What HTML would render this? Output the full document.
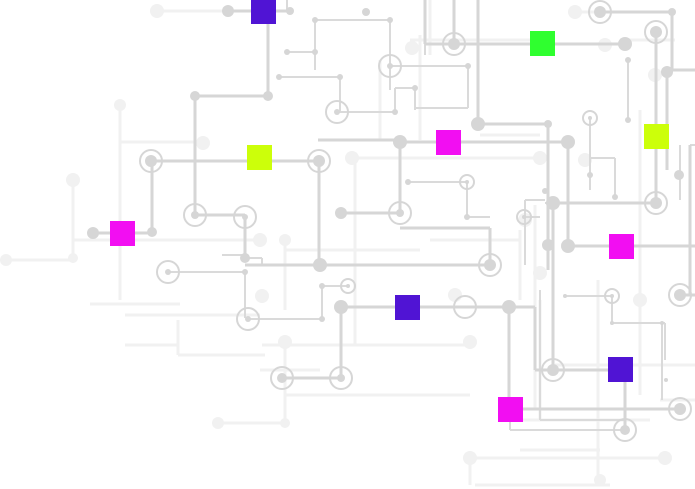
<!DOCTYPE html>
<html><head><meta charset="utf-8"><style>
html,body{margin:0;padding:0;background:#fff;width:695px;height:489px;overflow:hidden}
svg{display:block}
</style></head><body>
<svg width="695" height="489" viewBox="0 0 695 489" xmlns="http://www.w3.org/2000/svg">
<!-- faint background lines -->
<g stroke="#f1f1f1" stroke-width="3" fill="none">
<path d="M157 11H228M73 180V258M6 260H73M73 240H260M120 105V300M120 142H200M285 240V310M125 315H260M90 304H180M178 320V355M178 355H265M285 395H470M262 345H470M285 342V420M218 423H285M355 160V345M352 158H540M535 205V410M470 455V485M470 458H665M475 485H610M515 420H650M540 300V420M598 280V485M555 365H695M520 450H600M430 0V55M410 40H540M575 12H640M620 40H675M640 110V395M660 400H695M380 60V140M480 135H540M520 230V300M260 370H320M125 345H178M420 35V140M285 250H420M430 240H520"/>
</g>
<g fill="#f1f1f1">
<circle cx="157" cy="11" r="7"/><circle cx="73" cy="180" r="7"/><circle cx="6" cy="260" r="6"/><circle cx="73" cy="258" r="5"/>
<circle cx="260" cy="240" r="7"/><circle cx="120" cy="105" r="6"/><circle cx="285" cy="240" r="6"/><circle cx="262" cy="296" r="7"/>
<circle cx="285" cy="342" r="7"/><circle cx="470" cy="342" r="7"/><circle cx="218" cy="423" r="6"/><circle cx="285" cy="423" r="5"/>
<circle cx="352" cy="158" r="7"/><circle cx="540" cy="158" r="7"/><circle cx="470" cy="458" r="7"/><circle cx="665" cy="458" r="7"/>
<circle cx="600" cy="480" r="6"/><circle cx="540" cy="273" r="7"/><circle cx="412" cy="48" r="7"/><circle cx="575" cy="12" r="7"/>
<circle cx="605" cy="45" r="7"/><circle cx="655" cy="75" r="7"/><circle cx="585" cy="160" r="7"/><circle cx="640" cy="300" r="7"/>
<circle cx="525" cy="220" r="7"/><circle cx="455" cy="295" r="7"/><circle cx="203" cy="143" r="7"/>
</g>
<!-- thin mid-gray lines -->
<g stroke="#dadada" stroke-width="2" fill="none">
<path d="M287 0V11M315 20H390M315 20V70M287 52H315M390 20V90M279 77H340M340 77V112M337 112H395M395 112V88M395 88H415M415 88V110M390 66H468M468 66V108M468 108H415M425 0V55M342 213H400M408 182H467M467 182V217M467 217H490M525 200V265M525 217H540M525 200H545M590 118V190M590 158H615M615 158V197M628 60V120M545 203H655M565 296H612M612 296V323M612 323H665M662 323V400M665 323V360M222 255H245M245 272V318M248 319H322M322 319V286M322 286H348M170 272H245M262 258V265M245 258H262M690 145H695M680 145V200M540 290V420M540 420H625M622 430H510M510 430V409"/>
</g>
<!-- main lines -->
<g stroke="#d6d6d6" stroke-width="3" fill="none">
<path d="M228 11H290M268 11V96M195 96H268M195 96V215M151 161H320M152 161V233M93 233H152M195 215H245M245 217V258M245 265H490M319 161V265M318 140H400M400 142H568M400 142V213M341 213H400M400 228H490M490 228V265M478 124H548M548 124V270M478 0V124M568 142V246M568 246H695M553 203H656M656 30V203M553 203V370M425 0V44M454 0V44M425 44H625M341 307H509M341 307V378M282 378H341M509 307V409M509 409H680M509 307H535M535 307V370M535 370H620M625 370V430M690 145V295M680 295H695M600 12H672M672 12V70M672 70H695M667 72V170"/>
</g>
<!-- dots -->
<g fill="#d6d6d6">
<circle cx="228" cy="11" r="6"/><circle cx="290" cy="11" r="4"/><circle cx="268" cy="96" r="5"/><circle cx="195" cy="96" r="5"/>
<circle cx="366" cy="12" r="4"/><circle cx="315" cy="20" r="3"/><circle cx="390" cy="20" r="3"/><circle cx="287" cy="52" r="3"/><circle cx="315" cy="52" r="3"/>
<circle cx="279" cy="77" r="3"/><circle cx="340" cy="77" r="3"/><circle cx="395" cy="112" r="3"/><circle cx="415" cy="88" r="3"/><circle cx="468" cy="66" r="3"/>
<circle cx="93" cy="233" r="6"/><circle cx="152" cy="232" r="5"/><circle cx="245" cy="258" r="5"/><circle cx="320" cy="265" r="7"/>
<circle cx="400" cy="142" r="7"/><circle cx="568" cy="142" r="7"/><circle cx="341" cy="213" r="6"/><circle cx="478" cy="124" r="7"/><circle cx="548" cy="124" r="4"/>
<circle cx="548" cy="245" r="6"/><circle cx="568" cy="246" r="7"/><circle cx="553" cy="203" r="7"/><circle cx="625" cy="44" r="7"/><circle cx="672" cy="12" r="4"/>
<circle cx="667" cy="72" r="6"/><circle cx="679" cy="175" r="5"/><circle cx="341" cy="307" r="7"/><circle cx="509" cy="307" r="7"/><circle cx="408" cy="182" r="3"/>
<circle cx="467" cy="217" r="3"/><circle cx="245" cy="272" r="3"/><circle cx="322" cy="319" r="3"/><circle cx="322" cy="286" r="3"/>
<circle cx="565" cy="296" r="2"/><circle cx="612" cy="323" r="2"/><circle cx="662" cy="323" r="2"/><circle cx="666" cy="380" r="2"/><circle cx="628" cy="60" r="3"/><circle cx="628" cy="120" r="3"/>
<circle cx="590" cy="175" r="3"/><circle cx="615" cy="197" r="3"/><circle cx="545" cy="191" r="3"/>
</g>
<!-- rings -->
<g fill="none" stroke="#d6d6d6" stroke-width="2">
<circle cx="151" cy="161" r="11"/><circle cx="319" cy="161" r="11"/><circle cx="195" cy="215" r="11"/><circle cx="245" cy="217" r="11"/>
<circle cx="400" cy="213" r="11"/><circle cx="490" cy="265" r="11"/><circle cx="454" cy="44" r="11"/><circle cx="390" cy="66" r="11"/>
<circle cx="337" cy="112" r="11"/><circle cx="600" cy="12" r="11"/><circle cx="656" cy="32" r="11"/><circle cx="656" cy="203" r="11"/>
<circle cx="168" cy="272" r="11"/><circle cx="248" cy="319" r="11"/><circle cx="348" cy="286" r="7"/><circle cx="467" cy="182" r="7"/>
<circle cx="524" cy="217" r="7"/><circle cx="590" cy="118" r="7"/><circle cx="612" cy="296" r="7"/><circle cx="465" cy="307" r="11"/>
<circle cx="282" cy="378" r="11"/><circle cx="341" cy="378" r="11"/><circle cx="553" cy="370" r="11"/><circle cx="625" cy="430" r="11"/>
<circle cx="680" cy="409" r="11"/><circle cx="680" cy="295" r="11"/>
</g>
<g fill="#d6d6d6">
<circle cx="151" cy="161" r="6"/><circle cx="319" cy="161" r="6"/><circle cx="195" cy="215" r="4"/><circle cx="245" cy="217" r="3"/>
<circle cx="400" cy="213" r="4"/><circle cx="490" cy="265" r="6"/><circle cx="454" cy="44" r="6"/><circle cx="390" cy="66" r="3"/>
<circle cx="337" cy="112" r="3"/><circle cx="600" cy="12" r="6"/><circle cx="656" cy="32" r="6"/><circle cx="656" cy="203" r="6"/>
<circle cx="168" cy="272" r="3"/><circle cx="248" cy="319" r="3"/><circle cx="348" cy="286" r="2"/><circle cx="467" cy="182" r="2"/>
<circle cx="524" cy="217" r="2"/><circle cx="590" cy="118" r="2"/><circle cx="612" cy="296" r="2"/>
<circle cx="282" cy="378" r="5"/><circle cx="341" cy="378" r="4"/><circle cx="553" cy="370" r="6"/><circle cx="625" cy="430" r="5"/>
<circle cx="680" cy="409" r="6"/><circle cx="680" cy="295" r="6"/>
</g>
<!-- colored squares -->
<rect x="251" y="0" width="25" height="24" fill="#5014d4"/>
<rect x="530" y="31" width="25" height="25" fill="#2fff2f"/>
<rect x="644" y="124" width="25" height="25" fill="#ccff0a"/>
<rect x="436" y="130" width="25" height="25" fill="#f20ef2"/>
<rect x="247" y="145" width="25" height="25" fill="#ccff0a"/>
<rect x="110" y="221" width="25" height="25" fill="#f20ef2"/>
<rect x="609" y="234" width="25" height="25" fill="#f20ef2"/>
<rect x="395" y="295" width="25" height="25" fill="#5014d4"/>
<rect x="608" y="357" width="25" height="25" fill="#5014d4"/>
<rect x="498" y="397" width="25" height="25" fill="#f20ef2"/>
</svg>
</body></html>
